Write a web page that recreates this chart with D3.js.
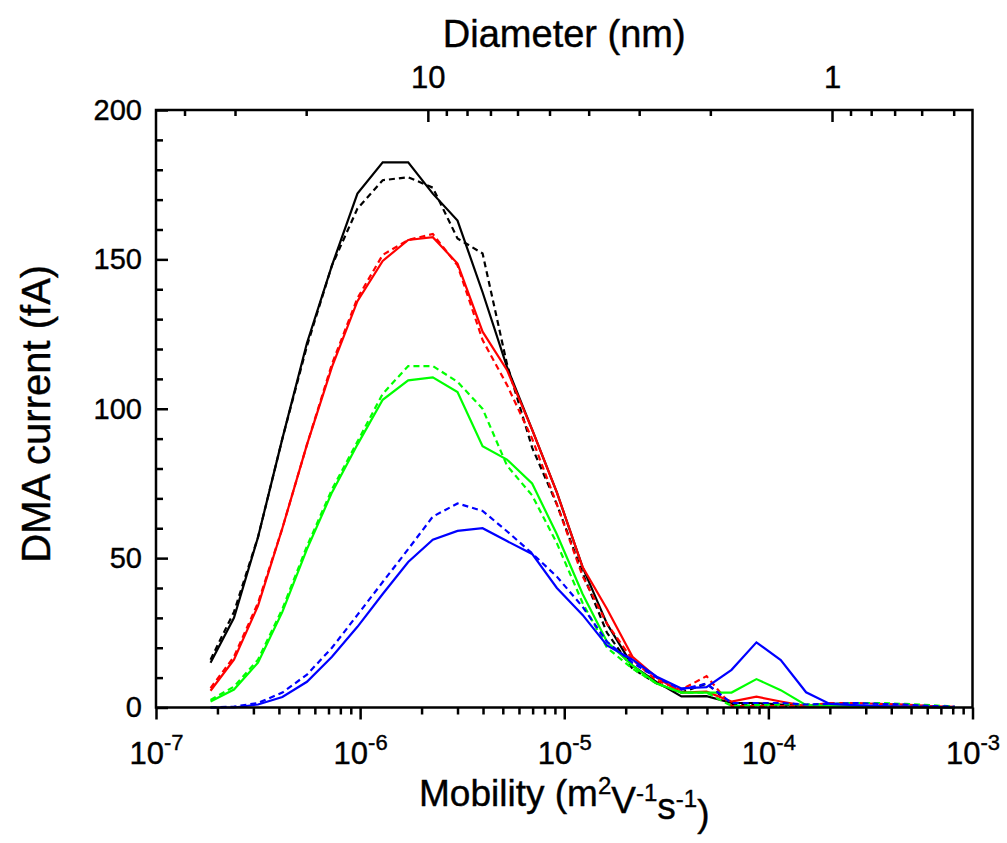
<!DOCTYPE html>
<html>
<head>
<meta charset="utf-8">
<script src="https://cdn.jsdelivr.net/npm/d3@7"></script>
<style>
  body { margin: 0; background: #fff; }
  text { font-family: Arial, "Liberation Sans", sans-serif; stroke: #000; stroke-width: 0.4px; }
</style>
</head>
<body>
<svg id="chart"></svg>
<script>
// mobility of each DMA step (m2 V-1 s-1)
var mobility = [1.85e-7, 2.41e-7, 3.16e-7, 4.16e-7, 5.49e-7, 7.28e-7, 9.70e-7, 1.29e-6,
  1.72e-6, 2.27e-6, 3.00e-6, 3.98e-6, 5.24e-6, 6.96e-6, 9.20e-6, 1.23e-5, 1.62e-5,
  2.16e-5, 2.84e-5, 3.75e-5, 4.98e-5, 6.60e-5, 8.74e-5, 1.15e-4, 1.53e-4, 2.00e-4,
  2.65e-4, 3.51e-4, 4.66e-4, 6.17e-4, 8.18e-4]

var blackSolid = [15, 30, 57, 90, 122, 148, 172, 182.5, 182.5, 172, 163, 139, 114, 93, 72, 47,
  28, 14, 8.5, 3.7, 3.8, 1.5, 1.5, 1, 0.5, 0.3, 0.3, 0.2, 0.2, 0.1, 0.1]
var blackDashed = [16, 32, 57, 90, 121, 148, 167, 176.5, 177.5, 174, 157, 152, 115, 87, 68, 45,
  25, 13, 8, 5, 8, 1, 0.8, 0.6, 0.5, 0.5, 0.5, 0.4, 0.3, 0.2, 0.1]
var redSolid = [5.6, 16, 34, 60, 88, 114, 136, 149.5, 156.5, 157.4, 148.6, 125.8, 113, 93, 72, 47,
  33, 17, 10, 5, 5.3, 2, 3.6, 2, 0.5, 0.5, 0.4, 0.3, 0.2, 0.1, 0.1]
var redDashed = [6.5, 17, 35, 60, 88, 115, 137, 151.5, 156.5, 158.5, 148, 123, 108, 90, 68, 44,
  28, 16, 9, 6, 10.5, 0.5, 0.5, 0.5, 0.5, 1.5, 1.5, 1.2, 1, 0.5, 0.2]
var greenSolid = [2, 6, 15, 32, 53, 72, 88, 103, 109.5, 110.5, 105.6, 87.5, 83, 75, 58, 38,
  22, 14, 8, 5, 5, 5, 9.5, 5.8, 0.8, 0.5, 0.3, 0.2, 0.1, 0.1, 0]
var greenDashed = [2.5, 7, 16, 33, 54, 73, 89, 105, 114.3, 114.3, 109, 100, 81, 71, 55, 35,
  20, 13, 8, 5, 5, 0.5, 0.8, 1, 1, 1.2, 1.5, 1.5, 1.2, 0.8, 0.3]
var blueSolid = [0, 0, 1, 3.5, 8.6, 17, 27, 38, 48.7, 56.2, 59.1, 60, 55.7, 51.4, 40, 31,
  20.8, 16, 10.3, 6.4, 6.8, 12.6, 21.8, 15.9, 5.1, 1.2, 0.8, 0.5, 0.3, 0.2, 0]
var blueDashed = [0, 0.3, 1.5, 5, 11, 20, 31, 42, 53, 63.9, 68.3, 65.8, 59, 51.6, 43.8, 33.7,
  22, 15, 10, 6, 8, 1.5, 1.5, 1.5, 1, 1.2, 1.5, 1.2, 1, 0.5, 0.3]

var yTicks = [0, 50, 100, 150, 200]
var xTickExponents = [-7, -6, -5, -4, -3]
var diameterTicks = [10, 1]

var series = [
  { values: blackSolid, color: "#000000", dashed: false },
  { values: blackDashed, color: "#000000", dashed: true },
  { values: redSolid, color: "#ff0000", dashed: false },
  { values: redDashed, color: "#ff0000", dashed: true },
  { values: greenSolid, color: "#00ff00", dashed: false },
  { values: greenDashed, color: "#00ff00", dashed: true },
  { values: blueSolid, color: "#0000ff", dashed: false },
  { values: blueDashed, color: "#0000ff", dashed: true }
]

var dimensions = {
  width: 1007,
  height: 843,
  margin: { top: 110, bottom: 135.5, right: 34.5, left: 156 }
}

var svg = d3.select("#chart")
  .attr("width", dimensions.width)
  .attr("height", dimensions.height)

var x0 = dimensions.margin.left
var x1 = dimensions.width - dimensions.margin.right
var y0 = dimensions.height - dimensions.margin.bottom
var y1 = dimensions.margin.top

var xScale = d3.scaleLog().domain([1e-7, 1e-3]).range([x0, x1])
var yScale = d3.scaleLinear().domain([0, 200]).range([y0, y1])

// diameter (nm) from mobility, used for the top axis
var diameterOf = z => Math.pow(2.05e-4 / z, 1 / 1.98)
var dScale = d3.scaleLog().domain([diameterOf(1e-7), diameterOf(1e-3)]).range([x0, x1])

var line = d3.line()
  .x((d, i) => xScale(mobility[i]))
  .y(d => yScale(d))

svg.append("g")
  .selectAll("path")
  .data(series)
  .enter()
  .append("path")
  .attr("d", d => line(d.values))
  .attr("fill", "none")
  .attr("stroke", d => d.color)
  .attr("stroke-width", 2.2)
  .attr("stroke-dasharray", d => d.dashed ? "6,4" : null)

// minor tick positions
var xMinor = []
for (var e = -7; e < -3; e++) {
  for (var m = 2; m <= 9; m++) xMinor.push(m * Math.pow(10, e))
}
var yMinor = d3.range(0, 201, 10).filter(v => v % 50 != 0)
var dMinor = [40, 30, 20, 9, 8, 7, 6, 5, 4, 3, 2, 0.9, 0.8, 0.7, 0.6, 0.5]

var styleAxis = g => {
  g.select(".domain").remove()
  g.selectAll("line").attr("stroke", "#000").attr("stroke-width", 2.5)
  g.selectAll("text").attr("fill", "#000").style("font-size", "29px")
}

// bottom axis
svg.append("g")
  .attr("transform", `translate(0,${y0})`)
  .call(d3.axisBottom(xScale).tickValues(xMinor).tickSize(7).tickFormat(""))
  .call(styleAxis)

var xAxis = svg.append("g")
  .attr("transform", `translate(0,${y0})`)
  .call(d3.axisBottom(xScale)
    .tickValues(xTickExponents.map(e => Math.pow(10, e)))
    .tickSize(12).tickPadding(22).tickFormat(""))
  .call(styleAxis)

xAxis.selectAll("text").style("font-size", "31px").each(function (d, i) {
  var t = d3.select(this)
  t.append("tspan").text("10")
  t.append("tspan").attr("dy", "-0.6em").style("font-size", "22px").text(xTickExponents[i])
})

// left axis, ticks inside
svg.append("g")
  .attr("transform", `translate(${x0},0)`)
  .call(d3.axisLeft(yScale).tickValues(yMinor).tickSize(-7).tickFormat(""))
  .call(styleAxis)

svg.append("g")
  .attr("transform", `translate(${x0},0)`)
  .call(d3.axisLeft(yScale).tickValues(yTicks).tickSize(-12).tickPadding(14))
  .call(styleAxis)

// top axis, diameter
svg.append("g")
  .attr("transform", `translate(0,${y1})`)
  .call(d3.axisTop(dScale).tickValues(dMinor).tickSize(-6).tickFormat(""))
  .call(styleAxis)

svg.append("g")
  .attr("transform", `translate(0,${y1})`)
  .call(d3.axisTop(dScale).tickValues(diameterTicks).tickSize(-12).tickPadding(22)
    .tickFormat(d3.format("d")))
  .call(styleAxis)
  .selectAll("text").style("font-size", "31px")

// frame
svg.append("rect")
  .attr("x", x0).attr("y", y1)
  .attr("width", x1 - x0).attr("height", y0 - y1)
  .attr("fill", "none")
  .attr("stroke", "#000")
  .attr("stroke-width", 2.5)

// titles
svg.append("text")
  .attr("x", (x0 + x1) / 2).attr("y", 47)
  .attr("text-anchor", "middle")
  .style("font-size", "38px")
  .text("Diameter (nm)")

var xTitle = svg.append("text")
  .attr("x", (x0 + x1) / 2).attr("y", 806)
  .attr("text-anchor", "middle")
  .style("font-size", "37px")
xTitle.append("tspan").text("Mobility (m")
xTitle.append("tspan").attr("dy", "-0.5em").style("font-size", "24px").text("2")
xTitle.append("tspan").attr("dy", "0.5em").text("V")
xTitle.append("tspan").attr("dy", "-0.5em").style("font-size", "24px").text("-1")
xTitle.append("tspan").attr("dy", "0.5em").text("s")
xTitle.append("tspan").attr("dy", "-0.5em").style("font-size", "24px").text("-1")
xTitle.append("tspan").attr("dy", "0.5em").text(")")

svg.append("text")
  .attr("transform", `translate(50,${(y0 + y1) / 2 + 5}) rotate(-90)`)
  .attr("text-anchor", "middle")
  .style("font-size", "40px")
  .text("DMA current (fA)")
</script>
</body>
</html>
